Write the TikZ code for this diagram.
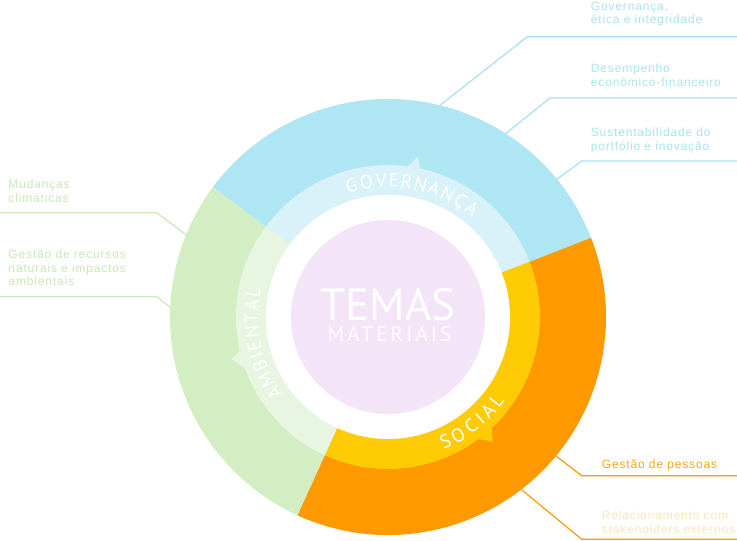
\documentclass[tikz,border=0pt]{standalone}
\usepackage{fontspec}
\setmainfont{Liberation Sans}
\newfontfamily\labelfont[LetterSpace=7]{Liberation Sans}
\newfontfamily\ringfont{PT Sans}
\newfontfamily\ringwide[LetterSpace=15]{PT Sans}
\usetikzlibrary{positioning}

\definecolor{govdark}{HTML}{AEE7F3}
\definecolor{govlight}{HTML}{D9F1F8}
\definecolor{ambdark}{HTML}{D3EEC3}
\definecolor{amblight}{HTML}{E8F5E0}
\definecolor{socdark}{HTML}{FF9900}
\definecolor{soclight}{HTML}{FFCB05}
\definecolor{core}{HTML}{F3E4F8}
\definecolor{govline}{HTML}{A4E0F1}
\definecolor{govtext}{HTML}{A8E3F2}
\definecolor{ambline}{HTML}{C9EAB4}
\definecolor{ambtext}{HTML}{C6E8B6}
\definecolor{socline}{HTML}{FF9C00}
\definecolor{soctext}{HTML}{FFA514}
\definecolor{socpale}{HTML}{FFE3BA}

\begin{document}
\begin{tikzpicture}[x=1pt, y=1pt,
    lbl/.style={anchor=north west, inner sep=0pt, align=left, font=\labelfont\fontsize{12}{13.5}\selectfont},
    ringletter/.style={anchor=base, inner sep=0pt, text=white, font=\ringfont\fontsize{19}{19}\selectfont},
    lead/.style={line width=1.2pt}]
\useasboundingbox (-388,-224) rectangle (349,317);

\fill[govdark] (0,0) -- (21.3:218) arc[start angle=21.3, end angle=143.5, radius=218] -- cycle;
\fill[ambdark] (0,0) -- (143.5:218) arc[start angle=143.5, end angle=245.5, radius=218] -- cycle;
\fill[socdark] (0,0) -- (245.5:218) arc[start angle=245.5, end angle=381.3, radius=218] -- cycle;
\fill[govlight] (0,0) -- (21.3:152) arc[start angle=21.3, end angle=143.5, radius=152] -- cycle;
\fill[amblight] (0,0) -- (143.5:152) arc[start angle=143.5, end angle=245.5, radius=152] -- cycle;
\fill[soclight] (0,0) -- (245.5:152) arc[start angle=245.5, end angle=381.3, radius=152] -- cycle;
\fill[govlight] (77.5:150) -- (79.5:163) -- (83:150) -- cycle;
\fill[amblight] (192.5:150) -- (195:162) -- (201:150) -- cycle;
\fill[soclight] (-54:150) -- (-50:163) -- (-46.5:150) -- cycle;
\fill[white] (0,0) circle (122);
\fill[core] (0,0) circle (97);

\foreach \ch/\a [count=\i] in {G/105.5, O/99.1, V/92.9, E/87.5, R/82.2, N/76.2, A/70.2, N/64.1, Ç/57.9, A/52.2}
  \node[ringletter, rotate=\a-90] (gl\i) at (\a:130) {\ch};
\foreach \ch/\a [count=\i] in {A/213.8, M/207.3, B/200.8, I/196.4, E/192.1, N/186.3, T/180.5, A/175.1, L/169.8}
  \node[ringletter, rotate=\a-90] (al\i) at (\a:130) {\ch};
\foreach \ch/\a [count=\i] in {S/-65.3, O/-59.3, C/-52.8, I/-47.9, A/-43.2, L/-37.7}
  \node[ringletter, rotate=\a+90] (sl\i) at (\a:144) {\ch};

\node[anchor=base, inner sep=0pt, text=white, font=\ringfont\fontsize{45}{45}\selectfont] (temas) at (0,-3) {TEMAS};
\node[anchor=base, inner sep=0pt, text=white, font=\ringwide\fontsize{21}{21}\selectfont] (materiais) at (1.5,-24.7) {MATERIAIS};

\node[lbl, text=govtext] (gov) at (202.7,315.3) {Governança,\\ética e integridade};
\node[lbl, text=govtext] (desemp) at (202.7,253) {Desempenho\\econômico-financeiro};
\node[lbl, text=govtext] (sust) at (202.7,189.3) {Sustentabilidade do\\portfólio e inovação};
\node[lbl, text=ambtext] (mud) at (-379.7,137) {Mudanças\\climáticas};
\node[lbl, text=ambtext] (recursos) at (-379.7,67) {Gestão de recursos\\naturais e impactos\\ambientais};
\node[lbl, text=soctext] (pessoas) at (213.7,-143) {Gestão de pessoas};
\node[lbl, text=socpale] (relac) at (213.7,-193.7) {Relacionamento com\\stakeholders externos};

\coordinate (gov-a) at (76.2:218);
\coordinate (gov-b) at (139.3,280.3);
\coordinate (gov-c) at (349,280.3);
\coordinate (desemp-a) at (57.3:218);
\coordinate (desemp-b) at (162,219);
\coordinate (desemp-c) at (349,219);
\coordinate (sust-a) at (39.2:218);
\coordinate (sust-b) at (193.7,156);
\coordinate (sust-c) at (349,156);
\coordinate (mud-a) at (157.8:218);
\coordinate (mud-b) at (-231.3,104.3);
\coordinate (mud-c) at (-388,104.3);
\coordinate (recursos-a) at (177.4:218);
\coordinate (recursos-b) at (-231.3,20.3);
\coordinate (recursos-c) at (-388,20.3);
\coordinate (pessoas-a) at (-39.6:218);
\coordinate (pessoas-b) at (193.7,-158.7);
\coordinate (pessoas-c) at (349,-158.7);
\coordinate (relac-a) at (-52.3:218);
\coordinate (relac-b) at (193.7,-222.3);
\coordinate (relac-c) at (349,-222.3);

\draw[lead, govline] (gov-a) -- (gov-b) -- (gov-c);
\draw[lead, govline] (desemp-a) -- (desemp-b) -- (desemp-c);
\draw[lead, govline] (sust-a) -- (sust-b) -- (sust-c);
\draw[lead, ambline] (mud-a) -- (mud-b) -- (mud-c);
\draw[lead, ambline] (recursos-a) -- (recursos-b) -- (recursos-c);
\draw[lead, socline] (pessoas-a) -- (pessoas-b) -- (pessoas-c);
\draw[lead, socline] (relac-a) -- (relac-b) -- (relac-c);
\end{tikzpicture}
\end{document}
